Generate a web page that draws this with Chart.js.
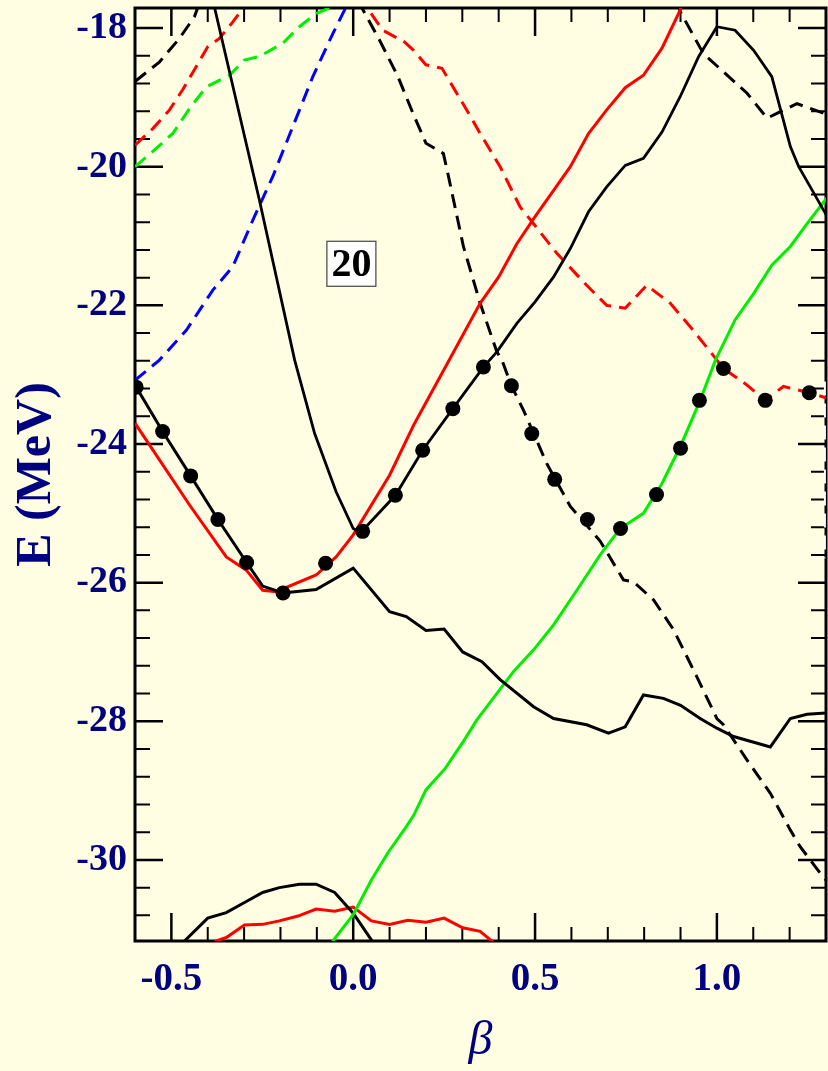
<!DOCTYPE html>
<html>
<head>
<meta charset="utf-8">
<script src="https://cdn.jsdelivr.net/npm/chart.js@4.4.1/dist/chart.umd.min.js"></script>
<style>
  html, body { margin: 0; padding: 0; background: #fffee3; }
  #wrap { width: 828px; height: 1071px; }
</style>
</head>
<body>
<div id="wrap"><canvas id="chart" width="828" height="1071"></canvas></div>
<script>
// axis ranges and tick labels
const xRange = [-0.6, 1.3];
const yRange = [-31.17, -17.71];
const xTicks = [-0.5, 0.0, 0.5, 1.0];
const yTicks = [-30, -28, -26, -24, -22, -20, -18];
const panelLabel = "20";

// curves as [beta, E] pairs
const blackLower = [[-0.6,-23.15],[-0.524,-23.82],[-0.447,-24.46],[-0.372,-25.09],[-0.293,-25.71],[-0.249,-26.05],[-0.193,-26.15],[-0.102,-26.10],[0.0,-25.79],[0.1,-26.42],[0.146,-26.49],[0.2,-26.69],[0.25,-26.67],[0.301,-27.0],[0.354,-27.14],[0.404,-27.40],[0.496,-27.79],[0.551,-27.96],[0.642,-28.05],[0.702,-28.17],[0.748,-28.08],[0.798,-27.62],[0.853,-27.67],[0.9,-27.77],[0.954,-27.96],[1.0,-28.10],[1.046,-28.22],[1.147,-28.37],[1.202,-27.96],[1.248,-27.9],[1.3,-27.88]];
const blackV = [[-0.39,-17.5],[-0.381,-17.71],[-0.258,-20.48],[-0.161,-22.79],[-0.106,-23.85],[-0.047,-24.69],[0.0,-25.22],[0.02,-25.28],[0.116,-24.74],[0.191,-24.09],[0.274,-23.49],[0.358,-22.89],[0.395,-22.67],[0.45,-22.26],[0.5,-21.95],[0.551,-21.59],[0.597,-21.18],[0.647,-20.65],[0.697,-20.29],[0.748,-19.98],[0.798,-19.88],[0.849,-19.50],[0.899,-18.99],[0.95,-18.41],[1.0,-17.98],[1.05,-18.03],[1.101,-18.32],[1.151,-18.70],[1.202,-19.71],[1.225,-20.0],[1.298,-20.67],[1.31,-20.8]];
const redSolid = [[-0.6,-23.70],[-0.45,-24.88],[-0.349,-25.63],[-0.294,-25.82],[-0.249,-26.11],[-0.212,-26.13],[-0.102,-25.89],[-0.047,-25.63],[0.0,-25.31],[0.1,-24.45],[0.166,-23.73],[0.267,-22.76],[0.349,-21.97],[0.4,-21.59],[0.45,-21.11],[0.5,-20.72],[0.551,-20.34],[0.597,-20.0],[0.647,-19.52],[0.697,-19.18],[0.748,-18.86],[0.798,-18.68],[0.849,-18.29],[0.899,-17.74],[0.92,-17.4]];
const greenSolid = [[-0.07,-31.4],[-0.056,-31.17],[0.0,-30.79],[0.05,-30.29],[0.095,-29.9],[0.146,-29.52],[0.166,-29.36],[0.2,-28.99],[0.253,-28.68],[0.303,-28.29],[0.34,-27.98],[0.441,-27.28],[0.496,-26.97],[0.551,-26.61],[0.615,-26.11],[0.679,-25.60],[0.734,-25.22],[0.798,-25.0],[0.849,-24.57],[0.899,-24.04],[0.954,-23.37],[0.996,-22.79],[1.05,-22.21],[1.101,-21.83],[1.151,-21.42],[1.202,-21.15],[1.248,-20.82],[1.298,-20.48],[1.31,-20.4]];
const blackDashMid = [[0.015,-17.6],[0.022,-17.69],[0.072,-18.17],[0.123,-18.70],[0.166,-19.25],[0.2,-19.66],[0.248,-19.81],[0.262,-20.14],[0.303,-21.15],[0.349,-21.97],[0.395,-22.67],[0.409,-22.79],[0.435,-23.16],[0.468,-23.51],[0.532,-24.28],[0.597,-24.90],[0.679,-25.40],[0.743,-25.96],[0.771,-25.99],[0.826,-26.25],[0.881,-26.68],[0.945,-27.36],[1.0,-27.96],[1.018,-28.05],[1.083,-28.56],[1.147,-29.04],[1.202,-29.57],[1.229,-29.81],[1.284,-30.19],[1.31,-30.35]];
const blackDashTopLeft = [[-0.6,-18.77],[-0.533,-18.49],[-0.478,-18.15],[-0.437,-17.84],[-0.42,-17.6]];
const blackDashTopRight = [[0.89,-17.6],[0.899,-17.76],[0.963,-18.37],[1.018,-18.63],[1.083,-18.94],[1.138,-19.30],[1.165,-19.23],[1.22,-19.09],[1.31,-19.26]];
const redDashTopLeft = [[-0.6,-19.69],[-0.551,-19.45],[-0.505,-19.18],[-0.469,-18.89],[-0.4,-18.27],[-0.368,-18.15],[-0.331,-17.91],[-0.304,-17.72],[-0.29,-17.5]];
const redDashRight = [[0.025,-17.5],[0.036,-17.69],[0.081,-18.03],[0.141,-18.20],[0.166,-18.32],[0.2,-18.53],[0.244,-18.58],[0.312,-19.18],[0.349,-19.52],[0.404,-20.0],[0.459,-20.58],[0.491,-20.79],[0.56,-21.25],[0.642,-21.71],[0.697,-22.0],[0.748,-22.04],[0.807,-21.71],[0.872,-21.97],[0.927,-22.31],[0.982,-22.67],[1.018,-22.91],[1.083,-23.15],[1.133,-23.37],[1.183,-23.17],[1.254,-23.26],[1.31,-23.35]];
const greenDashTopLeft = [[-0.6,-20.0],[-0.551,-19.78],[-0.496,-19.52],[-0.45,-19.16],[-0.404,-18.85],[-0.34,-18.68],[-0.299,-18.46],[-0.258,-18.41],[-0.194,-18.22],[-0.148,-17.98],[-0.102,-17.79],[-0.07,-17.72],[-0.05,-17.6]];
const blueDash = [[-0.6,-23.08],[-0.533,-22.79],[-0.459,-22.36],[-0.386,-21.78],[-0.331,-21.44],[-0.276,-20.77],[-0.221,-20.14],[-0.166,-19.42],[-0.111,-18.70],[-0.056,-18.08],[-0.019,-17.69],[-0.01,-17.55]];
const blackBottom = [[-0.48,-31.4],[-0.464,-31.17],[-0.4,-30.84],[-0.349,-30.76],[-0.294,-30.60],[-0.249,-30.47],[-0.203,-30.40],[-0.148,-30.35],[-0.102,-30.35],[-0.051,-30.47],[0.0,-30.77],[0.052,-31.17],[0.07,-31.4]];
const redBottom = [[-0.4,-31.3],[-0.377,-31.17],[-0.349,-31.12],[-0.299,-30.94],[-0.249,-30.93],[-0.203,-30.88],[-0.152,-30.81],[-0.102,-30.71],[-0.051,-30.74],[0.0,-30.68],[0.05,-30.88],[0.1,-30.93],[0.15,-30.87],[0.2,-30.90],[0.25,-30.84],[0.301,-30.98],[0.349,-31.03],[0.381,-31.17],[0.4,-31.35]];
const whiteEdge = [[1.297,-23.1],[1.297,-25.65]];
// filled circles (lowest configuration)
const dots = [[-0.597,-23.18],[-0.524,-23.82],[-0.447,-24.46],[-0.372,-25.09],[-0.293,-25.71],[-0.193,-26.15],[-0.076,-25.72],[0.026,-25.26],[0.116,-24.74],[0.191,-24.09],[0.274,-23.49],[0.358,-22.89],[0.435,-23.16],[0.491,-23.85],[0.554,-24.51],[0.644,-25.09],[0.735,-25.22],[0.834,-24.73],[0.900,-24.06],[0.952,-23.37],[1.018,-22.91],[1.133,-23.37],[1.254,-23.26]];

const navy = "#000080";
const serif = "'Liberation Serif', 'Times New Roman', serif";
const dash = [14, 8];

const pts = arr => arr.map(p => ({ x: p[0], y: p[1] }));
function curve(arr, color, dashed, width, order) {
  return {
    data: pts(arr), showLine: true, borderColor: color, borderWidth: width || 3,
    borderDash: dashed ? dash : [], pointRadius: 0, fill: false, order: order || 5
  };
}

// inward ticks on all four sides plus the frame
const framePlugin = {
  id: "frame",
  beforeDatasetsDraw(c) {
    const { ctx, chartArea: a, scales: { x, y } } = c;
    ctx.save();
    ctx.strokeStyle = "#000";
    ctx.lineCap = "butt";
    for (let i = -6; i <= 13; i++) {
      const v = i / 10;
      const px = x.getPixelForValue(v);
      const major = i % 5 === 0;
      const len = major ? 28 : 14;
      ctx.lineWidth = major ? 2.5 : 2;
      ctx.beginPath();
      ctx.moveTo(px, a.bottom); ctx.lineTo(px, a.bottom - len);
      ctx.moveTo(px, a.top); ctx.lineTo(px, a.top + len);
      ctx.stroke();
    }
    for (let i = -80; i <= -44; i++) {
      const v = i * 0.4;
      if (v < yRange[0] || v > yRange[1]) continue;
      const py = y.getPixelForValue(v);
      const major = i % 5 === 0;
      const len = major ? 28 : 15;
      ctx.lineWidth = major ? 2.5 : 2;
      ctx.beginPath();
      ctx.moveTo(a.left, py); ctx.lineTo(a.left + len, py);
      ctx.moveTo(a.right, py); ctx.lineTo(a.right - len, py);
      ctx.stroke();
    }
    ctx.lineWidth = 3;
    ctx.strokeRect(a.left, a.top, a.right - a.left, a.bottom - a.top);
    ctx.restore();
  },
  afterDatasetsDraw(c) {
    const { ctx, scales: { x, y } } = c;
    const cx = x.getPixelForValue(-0.005), cy = y.getPixelForValue(-21.40);
    ctx.save();
    ctx.fillStyle = "#ffffff";
    ctx.fillRect(cx - 24.5, cy - 22.5, 49, 45);
    ctx.strokeStyle = "#444";
    ctx.lineWidth = 1.2;
    ctx.strokeRect(cx - 24.5, cy - 22.5, 49, 45);
    ctx.fillStyle = "#000";
    ctx.font = "bold 40px " + serif;
    ctx.textAlign = "center";
    ctx.textBaseline = "middle";
    ctx.fillText(panelLabel, cx, cy + 2);
    ctx.restore();
  }
};

const noPad = s => { s.paddingTop = 0; s.paddingBottom = 0; s.paddingLeft = 0; s.paddingRight = 0; };

chart = new Chart(document.getElementById("chart").getContext("2d"), {
  type: "scatter",
  data: {
    datasets: [
      { data: pts(dots), pointRadius: 7.5, pointBackgroundColor: "#000", pointBorderWidth: 0, showLine: false, order: 0 },
      curve(whiteEdge, "#ffffff", true, 2, 1),
      curve(blackLower, "#000", false, 3),
      curve(blackV, "#000", false, 2.8),
      curve(redSolid, "#ff0000", false, 3),
      curve(greenSolid, "#00ee00", false, 3),
      curve(blackDashMid, "#000", true, 3),
      curve(blackDashTopLeft, "#000", true, 3),
      curve(blackDashTopRight, "#000", true, 3),
      curve(redDashTopLeft, "#ff0000", true, 3),
      curve(redDashRight, "#ff0000", true, 3),
      curve(greenDashTopLeft, "#00ee00", true, 3),
      curve(blueDash, "#0000ff", true, 3),
      curve(blackBottom, "#000", false, 3),
      curve(redBottom, "#ff0000", false, 3)
    ]
  },
  options: {
    responsive: false,
    animation: false,
    devicePixelRatio: 1,
    layout: { autoPadding: false, padding: { top: 8, right: 2, left: 0, bottom: 0 } },
    plugins: { legend: { display: false }, tooltip: { enabled: false } },
    elements: { line: { tension: 0 } },
    scales: {
      x: {
        type: "linear", min: xRange[0], max: xRange[1],
        afterBuildTicks: s => { s.ticks = xTicks.map(v => ({ value: v })); },
        afterFit: s => { s.height = 130; noPad(s); },
        grid: { display: false, drawTicks: false },
        border: { display: false },
        ticks: { autoSkip: false, maxRotation: 0, padding: 16, color: navy,
          font: { family: serif, size: 39, weight: "bold" },
          callback: v => v.toFixed(1) },
        title: { display: true, text: "β", color: navy, padding: { top: 0, bottom: 1 },
          font: { family: serif, size: 48, style: "italic" } }
      },
      y: {
        type: "linear", min: yRange[0], max: yRange[1],
        afterBuildTicks: s => { s.ticks = yTicks.map(v => ({ value: v })); },
        afterFit: s => { s.width = 135; noPad(s); },
        grid: { display: false, drawTicks: false },
        border: { display: false },
        ticks: { autoSkip: false, padding: 8, color: navy,
          font: { family: serif, size: 38, weight: "bold" },
          callback: v => String(v) },
        title: { display: true, text: "E (MeV)", color: navy, padding: { top: 7, bottom: 0 },
          font: { family: serif, size: 50, weight: "bold" } }
      }
    }
  },
  plugins: [framePlugin]
});
</script>
</body>
</html>
